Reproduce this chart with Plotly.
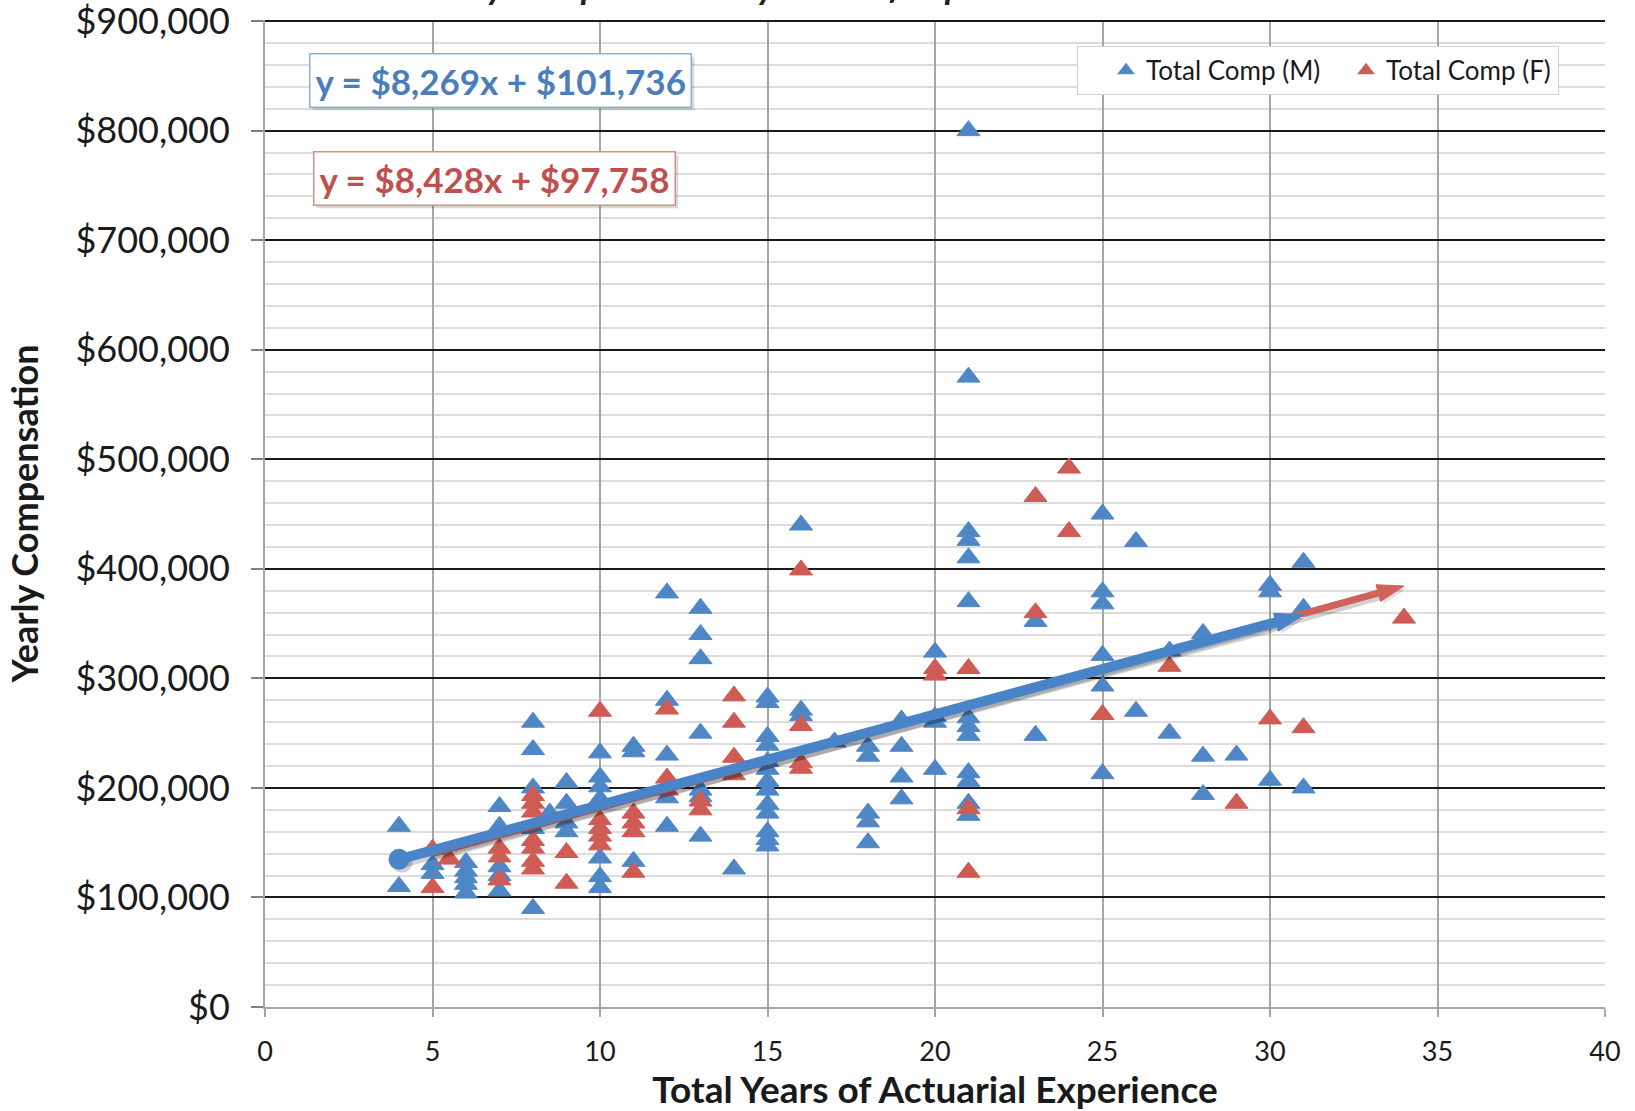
import plotly.graph_objects as go

# ---------------- data ----------------
male_years = (
    [4, 4] + [5, 5] + [6] * 5 + [7] * 5 + [8] * 5 + [8.5] + [9] * 4 + [10] * 7 +
    [11] * 3 + [12] * 5 + [13] * 7 + [14] + [15] * 13 + [16] * 3 + [17] +
    [18] * 5 + [19] * 4 + [20] * 4 + [21] * 13 + [23] * 2 + [25] * 6 +
    [26] * 2 + [27] * 2 + [28] * 3 + [29] + [30] * 3 + [31] * 3
)
male_comp = [
    165000, 110000,
    130000, 122000,
    132000, 124000, 118000, 112000, 104000,
    183000, 165000, 128000, 120000, 106000,
    260000, 235000, 200000, 163000, 90000,
    177000,
    205000, 186000, 168000, 160000,
    232000, 210000, 201000, 190000, 136000, 119000, 109000,
    238000, 233000, 133000,
    378000, 280000, 230000, 191000, 165000,
    364000, 340000, 318000, 250000, 198000, 192000, 156000,
    126000,
    283000, 278000, 247000, 239000, 224000, 217000, 206000, 198000, 185000, 177000, 160000, 153000, 147000,
    440000, 271000, 266000,
    242000,
    238000, 229000, 177000, 169000, 150000,
    262000, 238000, 210000, 190000,
    324000, 265000, 260000, 217000,
    800000, 575000, 434000, 426000, 410000, 370000, 264000, 256000, 248000, 214000, 206000, 186000, 175000,
    352000, 248000,
    450000, 379000, 368000, 321000, 293000, 213000,
    425000, 270000,
    325000, 250000,
    341000, 229000, 194000,
    230000,
    385000, 379000, 207000,
    406000, 364000, 200000,
]

female_years = (
    [5, 5] + [5.5] + [7] * 3 + [8] * 7 + [9] * 2 + [10] * 5 + [11] * 4 +
    [12] * 3 + [13] * 2 + [14] * 4 + [16] * 4 + [20] * 2 + [21] * 3 +
    [23] * 2 + [24] * 2 + [25] + [27] + [29] + [30] + [31] + [34]
)
female_comp = [
    144000, 109000,
    135000,
    145000, 137000, 116000,
    193000, 186000, 178000, 152000, 145000, 133000, 126000,
    141000, 113000,
    270000, 171000, 163000, 156000, 148000,
    177000, 168000, 160000, 123000,
    272000, 209000, 198000,
    188000, 180000,
    284000, 260000, 228000, 212000,
    399000, 257000, 223000, 218000,
    309000, 303000,
    309000, 181000, 123000,
    466000, 360000,
    492000, 434000,
    267000,
    311000,
    186000,
    263000,
    255000,
    355000,
]

# linear trend lines (as printed on the chart)
male_slope, male_intercept = 8269, 101736
female_slope, female_intercept = 8428, 97758
male_eq = "y = $8,269x + $101,736"
female_eq = "y = $8,428x + $97,758"

x_title = "Total Years of Actuarial Experience"
y_title = "Yearly Compensation"
chart_title = "Yearly Compensation by Years of Experience"
series_names = ["Total Comp (M)", "Total Comp (F)"]

# ---------------- styling ----------------
BLUE = "#4F86C6"
RED = "#CF5B55"
BLUE_LINE = "#4A84C8"
RED_LINE = "#D0625C"
BLUE_TXT = "#4A7EBB"
RED_TXT = "#C0504D"
FONT = "Lato"

W, H = 1635, 1111
ML, MR, MT, MB = 265, 30, 20, 104
X_RANGE = [0, 40]
Y_RANGE = [0, 901000]
px_per_x = (W - ML - MR) / (X_RANGE[1] - X_RANGE[0])
px_per_y = (H - MT - MB) / (Y_RANGE[1] - Y_RANGE[0])
SHADOW_PX = 3

fig = go.Figure()

fig.add_trace(go.Scatter(
    x=male_years, y=male_comp, mode="markers", name=series_names[0],
    marker=dict(symbol="triangle-up", size=20, color=BLUE,
                line=dict(width=1, color=BLUE)),
))
fig.add_trace(go.Scatter(
    x=female_years, y=female_comp, mode="markers", name=series_names[1],
    marker=dict(symbol="triangle-up", size=20, color=RED,
                line=dict(width=1, color=RED)),
))


def trend(years, slope, intercept):
    xs = [min(years), max(years)]
    ys = [slope * v + intercept for v in xs]
    return xs, ys


def add_trend(years, slope, intercept, color, width, head_size, start_dot):
    xs, ys = trend(years, slope, intercept)
    dx = SHADOW_PX / px_per_x
    dy = SHADOW_PX / px_per_y
    sh = "rgba(0,0,0,0.18)"
    fig.add_trace(go.Scatter(
        x=[v + dx for v in xs], y=[v - dy for v in ys], mode="lines+markers",
        line=dict(color=sh, width=width + 1),
        marker=dict(symbol="arrow", size=[0, head_size], color=sh, angleref="previous"),
        showlegend=False, hoverinfo="skip",
    ))
    if start_dot:
        fig.add_trace(go.Scatter(
            x=[xs[0] + dx], y=[ys[0] - dy], mode="markers",
            marker=dict(symbol="circle", size=start_dot, color=sh),
            showlegend=False, hoverinfo="skip",
        ))
    fig.add_trace(go.Scatter(
        x=xs, y=ys, mode="lines+markers",
        line=dict(color=color, width=width),
        marker=dict(symbol="arrow", size=[0, head_size], color=color, angleref="previous",
                    line=dict(width=1, color=color), opacity=1),
        showlegend=False, hoverinfo="skip",
    ))
    if start_dot:
        fig.add_trace(go.Scatter(
            x=[xs[0]], y=[ys[0]], mode="markers",
            marker=dict(symbol="circle", size=start_dot, color=color),
            showlegend=False, hoverinfo="skip",
        ))


add_trend(female_years, female_slope, female_intercept, RED_LINE, 7, 28, 0)
add_trend(male_years, male_slope, male_intercept, BLUE_LINE, 10, 30, 21)

# equation boxes (with soft shadow)
for text, col, border, xp, yp in [
    (male_eq, BLUE_TXT, "#8DB0DB", 0.176, 0.939),
    (female_eq, RED_TXT, "#D98B88", 0.171, 0.839),
]:
    common = dict(text=f"<b>{text}</b>", xref="paper", yref="paper", x=xp, y=yp,
                  xanchor="center", yanchor="middle", showarrow=False,
                  borderpad=5, borderwidth=1.5)
    fig.add_annotation(**common, font=dict(family=FONT, size=35, color="rgba(0,0,0,0)"),
                       bgcolor="rgba(0,0,0,0.15)", bordercolor="rgba(0,0,0,0)",
                       xshift=3, yshift=-3)
    fig.add_annotation(**common, font=dict(family=FONT, size=35, color=col),
                       bgcolor="white", bordercolor=border)

# title, cropped at the top edge as in the reference
fig.add_annotation(text=f"<b><i>{chart_title}</i></b>", xref="paper", yref="paper",
                   x=(742 - ML) / (W - ML - MR), y=1.0, yshift=MT - 9,
                   xanchor="center", yanchor="bottom", showarrow=False,
                   font=dict(family=FONT, size=36, color="#222"))

fig.update_layout(
    width=W, height=H,
    margin=dict(l=ML, r=MR, t=MT, b=MB, autoexpand=False),
    paper_bgcolor="white", plot_bgcolor="white",
    font=dict(family=FONT, color="#1a1a1a"),
    showlegend=True,
    legend=dict(orientation="h", x=0.606, xanchor="left", y=0.9737, yanchor="top",
                bgcolor="white", bordercolor="#D0D0D0", borderwidth=1,
                font=dict(family=FONT, size=26, color="#1a1a1a"),
                itemsizing="constant", entrywidth=167, entrywidthmode="pixels",
                indentation=28),
    xaxis=dict(
        range=X_RANGE, dtick=5, tick0=0, showgrid=True, gridcolor="#A6A6A6", gridwidth=1.5,
        showline=True, linecolor="#A6A6A6", linewidth=2, zeroline=False, automargin=False,
        ticks="outside", ticklen=8, tickcolor="#A6A6A6", tickwidth=1.5,
        tickfont=dict(family=FONT, size=27, color="#1a1a1a"), ticklabelstandoff=12,
        title=dict(text=f"<b>{x_title}</b>", font=dict(family=FONT, size=37, color="#1a1a1a"),
                   standoff=16),
    ),
    yaxis=dict(
        range=Y_RANGE, dtick=100000, tick0=0, showgrid=True, gridcolor="#1a1a1a", gridwidth=2,
        minor=dict(dtick=20000, showgrid=True, gridcolor="#DCDCDC", gridwidth=2),
        showline=True, linecolor="#A6A6A6", linewidth=2, zeroline=False, automargin=False,
        ticks="outside", ticklen=12, tickcolor="#808080", tickwidth=1.5,
        tickformat="$,.0f", tickfont=dict(family=FONT, size=36, color="#1a1a1a"),
        ticklabelstandoff=14, ticklabeloverflow="allow",
        title=dict(text=f"<b>{y_title}</b>", font=dict(family=FONT, size=36, color="#1a1a1a"),
                   standoff=26),
    ),
)

fig.write_html("out.html")
